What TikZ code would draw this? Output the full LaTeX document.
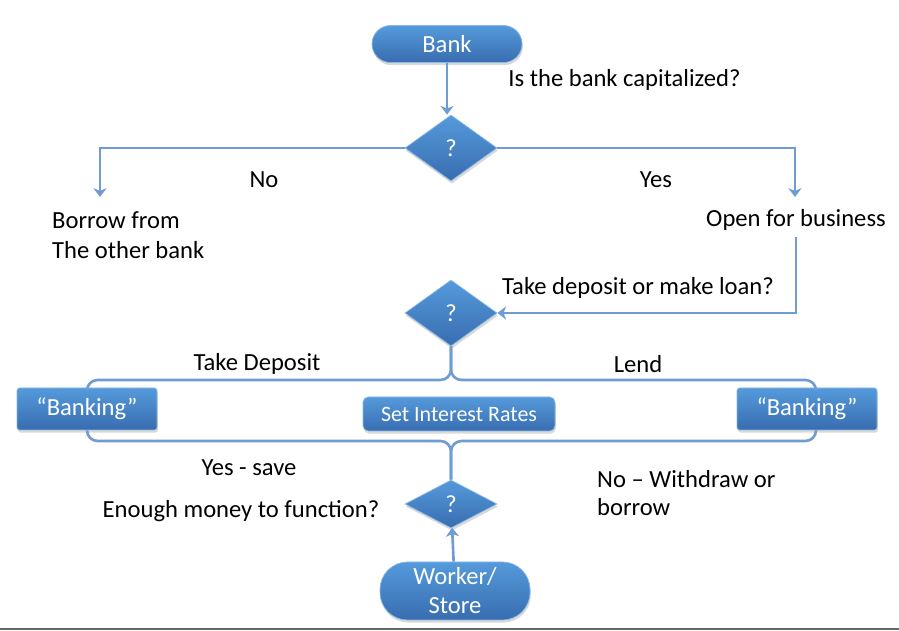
\documentclass[tikz,border=0pt]{standalone}
\usepackage{fontspec}
\setmainfont{Carlito}
\usetikzlibrary{shapes.geometric,arrows.meta,shadows}
\definecolor{boxtop}{HTML}{559ADB}
\definecolor{boxbot}{HTML}{386DB0}
\definecolor{flowline}{HTML}{6F9DD3}

\begin{document}
\begin{tikzpicture}[
  font=\fontsize{14}{17}\selectfont,
  box/.style={top color=boxtop, bottom color=boxbot, draw=boxtop!70!white,
    text=white, drop shadow={opacity=0.3, shadow xshift=0.5pt, shadow yshift=-1.5pt}},
  pill/.style={box, rounded corners=0.37cm, minimum width=3cm, minimum height=0.74cm},
  decide/.style={box, diamond, inner sep=0pt, minimum width=1.84cm, minimum height=1.32cm},
  bankbox/.style={box, rounded corners=1.5pt, minimum width=2.8cm, minimum height=0.84cm},
  flow/.style={flowline, line width=1.5pt},
  arr/.style={flow, -{Stealth[length=5pt,width=7.5pt,inset=1.5pt]}}]
  \useasboundingbox (0,0) rectangle (17.98,12.62);
  \draw[black!60, line width=1.2pt] (0,0.04) -- (17.98,0.04);

  \node[pill] (bank) at (8.94,11.74) {Bank};
  \node[decide] (q1) at (9.02,9.66) {?};
  \node[decide] (q2) at (9.02,6.36) {?};
  \node[decide, minimum height=0.96cm] (q3) at (9.02,2.54) {?};
  \node[pill, rounded corners=0.55cm, minimum height=1.16cm, align=center,
    font=\fontsize{14}{16.5}\selectfont] (worker) at (9.1,0.8) {Worker/\\Store};

  \node[bankbox] (bankL) at (1.74,4.44) {“Banking”};
  \node[bankbox] (bankR) at (16.14,4.44) {“Banking”};
  \node[box, rounded corners=3pt, minimum width=3.84cm, minimum height=0.68cm,
    font=\fontsize{12.5}{15}\selectfont] (rates) at (9.18,4.34) {Set Interest Rates};

  \node (capq) at (12.49,11.02) {Is the bank capitalized?};
  \node (nolbl) at (5.28,9.02) {No};
  \node (yeslbl) at (13.12,9.02) {Yes};
  \node[anchor=west, align=left] (borrow) at (0.92,7.92) {Borrow from\\The other bank};
  \node (open) at (15.92,8.22) {Open for business};
  \node (loanq) at (12.76,6.86) {Take deposit or make loan?};
  \node (deplbl) at (5.14,5.34) {Take Deposit};
  \node (lendlbl) at (12.76,5.34) {Lend};
  \node (savelbl) at (4.98,3.26) {Yes - save};
  \node (enoughq) at (4.82,2.4) {Enough money to function?};
  \node[anchor=west, align=left, font=\fontsize{14}{16}\selectfont] (wdraw)
    at (11.82,2.76) {No – Withdraw or\\borrow};

  \coordinate (noend) at (2.0,8.68);
  \coordinate (yesend) at (15.9,8.68);
  \coordinate (splitT) at (9.02,5.02);
  \coordinate (splitB) at (9.02,3.8);
  \coordinate (rightT) at (16.32,4.86);
  \coordinate (rightB) at (16.32,4.02);

  \draw[arr] (bank.south) -- (bank.south |- q1.north);
  \draw[arr] (q1.west) -| (noend);
  \draw[arr] (q1.east) -| (yesend);
  \draw[arr] (open.south) |- (q2.east);
  \draw[flow, rounded corners=6pt] (q2.south) -- (splitT) -| (bankL.north);
  \draw[flow, rounded corners=6pt] (q2.south) -- (splitT) -| (rightT);
  \draw[flow, rounded corners=6pt] (bankL.south) |- (splitB) -- (q3.north);
  \draw[flow, rounded corners=6pt] (rightB) |- (splitB) -- (q3.north);
  \draw[arr] (worker) -- (q3);
\end{tikzpicture}
\end{document}
